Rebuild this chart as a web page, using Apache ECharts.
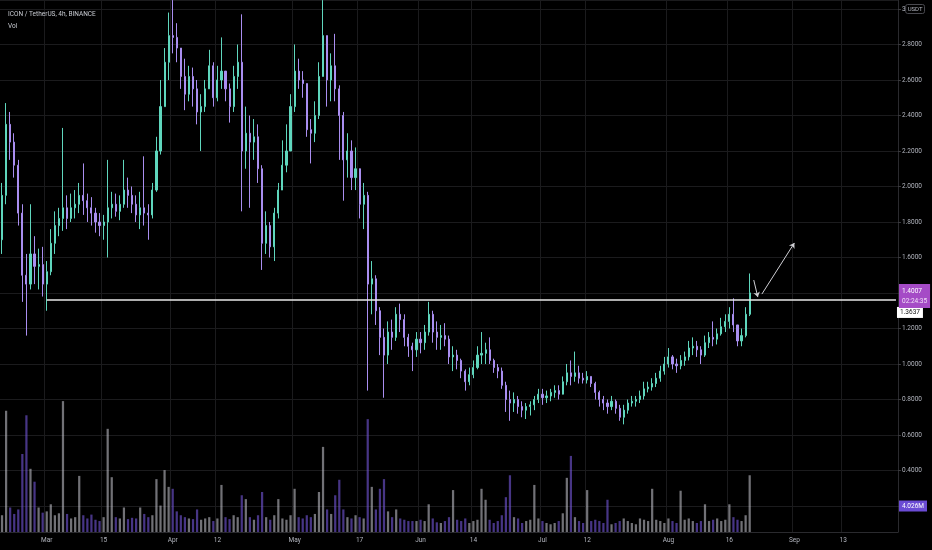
<!DOCTYPE html>
<html><head><meta charset="utf-8">
<script src="https://cdn.jsdelivr.net/npm/echarts@6/dist/echarts.min.js"></script>
<style>html,body{margin:0;padding:0;background:#000;}#c{width:932px;height:550px;}</style>
</head><body><div id="c"></div>
<script>
// ---- data (daily candles, 2021-02-18 .. 2021-08-21) ----
const startDate = [2021, 1, 18];
const totalDays = 221; // categories through the right edge of the plot
const firstOpen = 1.70;
const closes = [
  1.95,2.35,2.25,2.12,1.85,1.50,1.45,1.62,1.55,1.56,1.45,
  1.52,1.68,1.78,1.82,1.88,1.82,1.88,1.90,1.95,1.92,1.88,1.85,1.80,1.78,1.80,1.88,1.90,1.86,1.90,1.98,1.95,1.90,1.84,1.88,1.85,1.84,1.98,2.20,2.45,2.70,2.85,
  2.84,2.78,2.62,2.52,2.62,2.55,2.42,2.45,2.55,2.68,2.50,2.60,2.65,2.55,2.45,2.62,2.70,2.20,2.30,2.25,2.28,2.10,1.68,1.78,1.66,1.85,1.98,2.12,2.20,2.45,
  2.65,2.60,2.58,2.32,2.30,2.40,2.62,2.85,2.60,2.68,2.55,2.40,2.15,2.20,2.05,2.10,1.90,1.95,1.45,1.48,1.30,1.15,1.05,1.18,1.15,1.28,1.25,1.15,1.10,1.08,1.14,
  1.12,1.18,1.28,1.18,1.15,1.16,1.14,1.04,1.05,1.02,0.96,0.90,0.94,0.98,1.05,1.06,1.08,1.02,0.98,0.96,0.88,0.80,0.78,0.80,0.76,0.74,0.76,0.77,0.80,0.83,
  0.81,0.82,0.84,0.85,0.83,0.90,0.95,0.93,0.95,0.92,0.91,0.93,0.89,0.84,0.80,0.78,0.76,0.79,0.75,0.70,0.74,0.78,0.79,0.80,0.82,0.86,0.87,0.89,0.92,0.96,1.00,
  1.04,1.00,0.99,1.02,1.04,1.09,1.10,1.08,1.05,1.12,1.15,1.14,1.17,1.21,1.24,1.28,1.22,1.13,1.16,1.28,1.4007
];
const highs = [
  2.02,2.47,2.42,2.30,2.15,1.90,1.62,1.90,1.72,1.65,1.66,
  1.58,1.76,1.86,1.88,2.33,1.95,1.96,1.98,2.02,2.13,1.96,1.94,1.88,1.85,1.84,2.15,1.97,1.96,1.95,2.15,2.05,2.00,1.95,1.97,2.17,1.90,2.02,2.28,2.60,2.78,2.98,
  3.05,2.92,2.78,2.72,2.68,2.67,2.60,2.52,2.60,2.77,2.70,2.68,2.84,2.65,2.58,2.68,2.80,2.97,2.45,2.40,2.38,2.35,2.12,1.86,1.80,1.88,2.02,2.26,2.35,2.52,
  2.80,2.72,2.65,2.58,2.38,2.48,2.70,3.05,2.85,2.75,2.86,2.57,2.42,2.30,2.26,2.22,2.06,2.02,1.97,1.58,1.50,1.32,1.20,1.24,1.25,1.32,1.34,1.28,1.17,1.12,1.18,
  1.18,1.22,1.35,1.30,1.24,1.22,1.23,1.16,1.10,1.08,1.03,0.97,0.98,1.02,1.10,1.18,1.12,1.15,1.03,1.00,0.98,0.90,0.85,0.84,0.82,0.79,0.78,0.79,0.82,0.86,
  0.86,0.85,0.86,0.88,0.88,0.93,1.00,1.02,1.07,0.99,0.95,0.96,0.93,0.90,0.85,0.82,0.80,0.82,0.80,0.77,0.77,0.80,0.82,0.82,0.85,0.90,0.90,0.92,0.95,0.99,1.04,
  1.09,1.05,1.03,1.05,1.07,1.13,1.15,1.13,1.10,1.16,1.18,1.24,1.20,1.26,1.28,1.32,1.37,1.22,1.20,1.32,1.51
];
const lows = [
  1.62,1.90,2.15,2.05,1.78,1.35,1.16,1.42,1.45,1.42,1.38,
  1.30,1.50,1.62,1.72,1.75,1.76,1.80,1.82,1.85,1.84,1.80,1.78,1.74,1.72,1.70,1.60,1.82,1.83,1.81,1.88,1.88,1.85,1.80,1.76,1.78,1.70,1.82,1.97,2.18,2.45,2.60,
  2.75,2.70,2.55,2.43,2.48,2.45,2.35,2.20,2.42,2.55,2.45,2.48,2.55,2.48,2.36,2.42,2.55,1.86,2.10,1.88,2.15,2.02,1.53,1.62,1.60,1.58,1.82,1.98,2.08,2.25,
  2.42,2.55,2.50,2.28,2.13,2.25,2.38,2.62,2.45,2.48,2.48,2.15,1.92,2.05,1.98,1.98,1.82,1.76,0.85,1.28,1.22,1.05,0.81,1.00,1.08,1.13,1.18,1.10,1.04,0.96,1.04,
  1.06,1.08,1.16,1.12,1.08,1.08,1.10,1.00,0.96,0.97,0.92,0.85,0.88,0.92,0.97,1.00,1.00,1.00,0.95,0.92,0.86,0.73,0.68,0.73,0.72,0.70,0.69,0.71,0.74,0.78,
  0.77,0.78,0.79,0.81,0.80,0.84,0.88,0.88,0.90,0.89,0.89,0.89,0.87,0.80,0.76,0.74,0.72,0.74,0.72,0.68,0.66,0.72,0.76,0.76,0.78,0.80,0.84,0.85,0.87,0.90,0.94,
  0.98,0.97,0.95,0.97,0.99,1.02,1.05,1.04,1.00,1.04,1.09,1.10,1.11,1.16,1.18,1.20,1.18,1.10,1.10,1.15,1.27
];
const volumes = [ // millions
  2.6,18.8,3.8,2.8,3.5,12.1,18.1,9.8,7.8,3.8,3.0,
  3.2,4.3,2.6,2.9,20.3,2.8,2.1,2.3,8.7,2.6,2.1,2.7,1.9,1.7,2.3,16.0,8.5,2.3,2.1,3.8,2.0,2.2,2.1,3.8,2.8,2.3,2.6,8.2,4.1,9.6,7.0,
  6.7,3.2,2.6,2.3,2.1,2.0,3.5,1.9,2.1,2.3,1.7,2.1,7.3,2.3,2.0,2.6,2.3,5.7,5.1,2.3,1.9,2.6,6.2,2.3,1.9,2.6,5.1,2.1,1.9,2.6,
  6.7,2.3,2.1,2.6,2.3,2.8,6.2,13.2,3.5,2.8,5.7,8.1,3.5,2.3,2.1,2.6,2.3,2.1,17.5,7.0,3.5,6.7,8.2,3.2,2.3,3.5,2.1,1.9,1.7,1.7,1.7,
  1.9,1.7,4.3,2.1,1.5,1.4,1.7,2.3,6.5,1.9,1.7,2.1,1.4,1.7,1.9,6.7,5.0,1.9,1.4,1.7,2.6,5.4,8.8,2.3,2.1,1.4,1.7,1.9,7.3,2.1,
  1.7,1.4,1.2,1.4,1.7,2.9,8.4,11.8,2.3,1.7,1.4,6.5,1.7,1.9,1.7,1.4,5.0,1.2,1.4,1.7,2.1,1.7,1.4,1.2,2.1,1.9,1.7,6.7,1.9,1.7,1.4,
  2.1,1.7,1.4,6.4,1.9,2.1,1.7,1.4,1.7,4.3,1.7,1.9,2.1,1.7,1.9,4.3,2.3,1.9,1.7,2.6,8.8
];
const tickLabels = [
  ['2021-03-01','Mar'],['2021-03-15','15'],['2021-04-01','Apr'],['2021-04-12','12'],
  ['2021-05-01','May'],['2021-05-17','17'],['2021-06-01','Jun'],['2021-06-14','14'],
  ['2021-07-01','Jul'],['2021-07-12','12'],['2021-08-01','Aug'],['2021-08-16','16'],
  ['2021-09-01','Sep'],['2021-09-13','13']
];
const supportLevel = 1.3637;
const supportStart = '2021-03-01';
const lastPrice = 1.4007;
const countdown = '02:24:35';
const lastVolume = 4.026;
const arrows = [
  [['2021-08-22', 1.473], ['2021-08-23', 1.377]],
  [['2021-08-24', 1.394], ['2021-09-01', 1.682]]
];

// ---- build ----
const dates = [];
const t0 = Date.UTC(startDate[0], startDate[1], startDate[2]);
for (let i = 0; i < totalDays; i++) dates.push(new Date(t0 + i * 86400000).toISOString().slice(0, 10));
const candles = closes.map((c, i) => [i === 0 ? firstOpen : closes[i - 1], c, lows[i], highs[i]]);
const UP = '#5fd6bd', DOWN = '#a98ef0';
const volData = volumes.map((v, i) => ({
  value: v,
  itemStyle: { color: candles[i][1] >= candles[i][0] ? 'rgba(205,205,215,0.55)' : 'rgba(115,85,215,0.62)' }
}));
const labelMap = Object.fromEntries(tickLabels);
const showTick = (idx, val) => Object.prototype.hasOwnProperty.call(labelMap, val);
const FONT = 'Roboto, "Liberation Sans", sans-serif';
const TXT = '#b2b5be';
const CLEAR = 'rgba(0,0,0,0)';

const chart = echarts.init(document.getElementById('c'), null, { renderer: 'canvas' });
chart.setOption({
  animation: false,
  backgroundColor: '#000000',
  textStyle: { fontFamily: FONT },
  title: [
    { text: 'ICON / TetherUS, 4h, BINANCE', left: 3, top: 6, textStyle: { color: '#c8cbd2', fontSize: 6.5, fontWeight: 'normal', fontFamily: FONT } },
    { text: 'Vol', left: 3, top: 17.5, textStyle: { color: '#c8cbd2', fontSize: 6.5, fontWeight: 'normal', fontFamily: FONT } }
  ],
  grid: [
    { left: 0, right: 34, top: 0, bottom: 44 },
    { left: 0, right: 34, top: 0, bottom: 18 }
  ],
  xAxis: [
    { type: 'category', gridIndex: 0, data: dates, boundaryGap: true, show: false },
    {
      type: 'category', gridIndex: 1, data: dates, boundaryGap: true,
      axisLine: { show: true, lineStyle: { color: '#2a2a2e' } },
      axisTick: { show: false },
      axisLabel: { interval: showTick, formatter: v => labelMap[v] || '', color: TXT, fontSize: 6.5, margin: 5, fontFamily: FONT },
      splitLine: { show: true, interval: showTick, lineStyle: { color: '#1b1b1d', width: 1 } }
    }
  ],
  yAxis: [
    {
      type: 'value', gridIndex: 0, position: 'right', min: 0.2, max: 3.0507, interval: 0.2,
      axisLine: { show: false },
      axisTick: { show: true, length: 3, lineStyle: { color: '#3a3a3e' } },
      axisLabel: {
        color: TXT, fontSize: 6.5, margin: 4, align: 'left', fontFamily: FONT, showMaxLabel: false,
        formatter: v => Math.abs(v - 3) < 1e-6 ? '3{u|USDT}' : (v > 3.01 ? '' : v.toFixed(4)),
        rich: { u: { color: TXT, fontSize: 6, borderColor: '#4a4a50', borderWidth: 1, borderRadius: 2, padding: [2, 2, 1, 2], fontFamily: FONT } }
      },
      splitLine: { show: true, lineStyle: { color: '#1b1b1d', width: 1 } }
    },
    {
      type: 'value', gridIndex: 1, position: 'right', min: 0, max: 82.5,
      axisLine: { show: true, lineStyle: { color: '#2a2a2e' } },
      axisTick: { show: false }, axisLabel: { show: false }, splitLine: { show: false }
    }
  ],
  series: [
    {
      type: 'bar', xAxisIndex: 1, yAxisIndex: 1, data: volData, barWidth: '55%', z: 1,
      markLine: {
        silent: true, symbol: ['none', 'none'],
        data: [{ yAxis: lastVolume, lineStyle: { color: CLEAR, width: 0.1 } }],
        label: {
          show: true, position: 'end', distance: 1, formatter: lastVolume.toFixed(3) + 'M',
          backgroundColor: '#6a4bd4', color: '#ffffff', fontSize: 6.5, padding: [2, 3, 2, 3], fontFamily: FONT
        }
      }
    },
    {
      type: 'candlestick', xAxisIndex: 0, yAxisIndex: 0, data: candles, barWidth: '40%', z: 3,
      itemStyle: { color: UP, color0: DOWN, borderColor: UP, borderColor0: DOWN, borderWidth: 1 },
      markLine: {
        silent: true, symbol: ['none', 'none'], animation: false,
        data: [
          [
            { coord: [supportStart, supportLevel], lineStyle: { color: '#e8e8e8', width: 1.5, type: 'solid' },
              label: { show: true, position: 'end', distance: 1, formatter: supportLevel.toFixed(4), backgroundColor: '#ffffff', color: '#131313', fontSize: 6.5, padding: [2, 3, 2, 3], offset: [0, 13], fontFamily: FONT } },
            { coord: [dates[dates.length - 1], supportLevel] }
          ],
          {
            yAxis: lastPrice, lineStyle: { color: CLEAR, width: 0.1 },
            label: { show: true, position: 'end', distance: 1, formatter: '{a|' + lastPrice.toFixed(4) + '}\n{b|' + countdown + '}',
              backgroundColor: '#a54bc6', padding: [2, 3, 2, 3], offset: [0, 3],
              rich: { a: { color: '#ffffff', fontSize: 6.5, lineHeight: 10, fontFamily: FONT }, b: { color: '#f0dff7', fontSize: 6.5, lineHeight: 10, fontFamily: FONT } } }
          },
          ...arrows.map(a => [
            { coord: a[0], symbol: 'none', lineStyle: { color: '#cfcfd4', width: 1, type: 'solid' }, label: { show: false } },
            { coord: a[1], symbol: 'arrow', symbolSize: 5 }
          ])
        ]
      }
    }
  ]
});
</script></body></html>
